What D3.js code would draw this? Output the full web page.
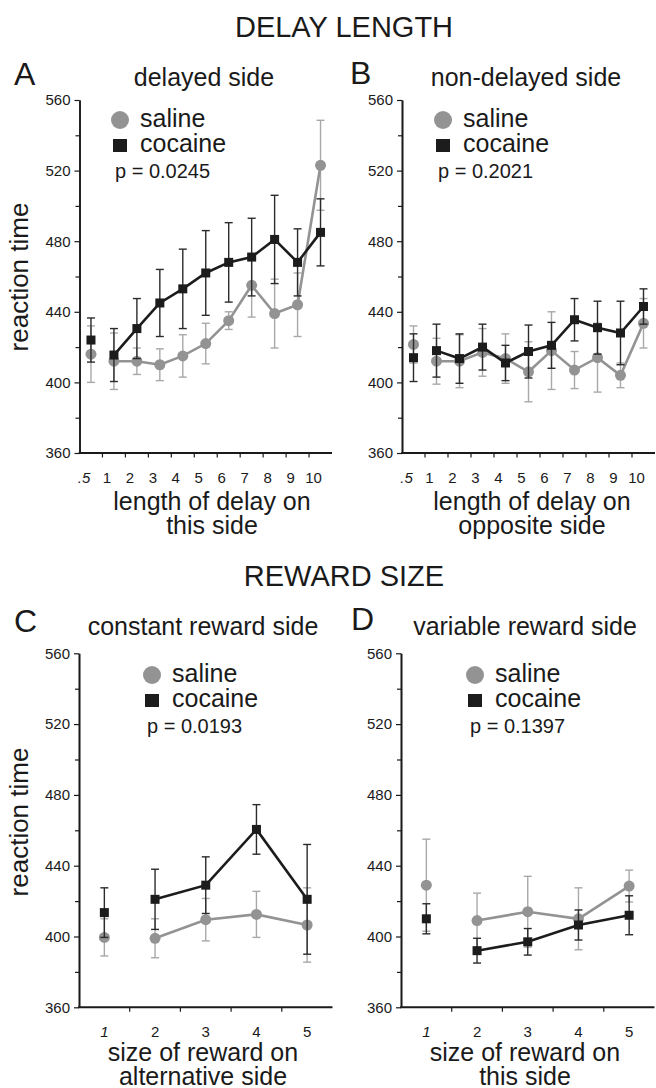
<!DOCTYPE html>
<meta charset="utf-8">
<style>
body { margin: 0; background: #fff; }
svg { display: block; }
text { font-family: "Liberation Sans", Arial, sans-serif; fill: #1a1a1a; }
</style>
<svg width="656" height="1088"></svg>
<script src="https://d3js.org/d3.v7.min.js"></script>
<script>

// categories / ticks
var delayCats = [".5", "1", "2", "3", "4", "5", "6", "7", "8", "9", "10"];
var rewardCats = ["1", "2", "3", "4", "5"];
var yMajor = [360, 400, 440, 480, 520, 560];
var yMinor = [380, 420, 460, 500, 540];

// A - delayed side
var aSaline      = [416, 412, 412, 410, 415, 422, 435, 455, 439, 444, 523];
var aSalineErr   = [16, 16, 7.5, 9, 12, 11.5, 5, 18, 19.5, 18, 25.5];
var aCocaine     = [424, 415.5, 430.5, 445, 453, 462, 468, 471, 481, 468, 485];
var aCocaineErr  = [12.5, 15, 17, 19, 22.5, 24, 22.5, 22, 25, 19, 19];

// B - non-delayed side
var bSaline      = [421.5, 412, 412, 417, 413.5, 406, 418, 407, 414, 404, 433.5];
var bSalineErr   = [10.5, 13, 15, 13.5, 14, 17, 22, 10.5, 19.5, 7, 14];
var bCocaine     = [414, 418, 413.5, 420, 411, 417.5, 421, 435.5, 431, 428, 443];
var bCocaineErr  = [13.5, 15, 14, 13, 10, 15, 13, 12, 15, 18, 10];

// C - constant reward side
var cSaline      = [399.5, 399, 409.5, 412.5, 406.5];
var cSalineErr   = [10.5, 11, 12, 13, 21];
var cCocaine     = [413.5, 421, 429, 460.5, 421];
var cCocaineErr  = [14, 17, 16, 14, 31];

// D - variable reward side
var dSaline      = [429, 409, 414, 410, 428.5];
var dSalineErr   = [26, 15.5, 20, 17.5, 9];
var dCocaine     = [410, 392, 397, 406.5, 412];
var dCocaineErr  = [8.5, 7, 7.5, 8.5, 11];

var pValues = ["p = 0.0245", "p = 0.2021", "p = 0.0193", "p = 0.1397"];

var saline_colour = "#939393";
var saline_err_colour = "#a8a8a8";
var cocaine_colour = "#1c1c1c";
var cocaine_err_colour = "#2b2b2b";

var svg = d3.select("svg");

function addText(x, y, txt, size, anchor) {
  return svg.append("text")
    .attr("x", x).attr("y", y)
    .attr("text-anchor", anchor || "start")
    .style("font-size", size + "px")
    .text(txt);
}

// section headings
addText(344, 37, "DELAY LENGTH", 29, "middle");
addText(344, 586, "REWARD SIZE", 29, "middle");

function drawSeries(g, x, y, cats, means, errs, colour, errColour, isSquare) {
  var bw = x.bandwidth();
  var pts = cats.map(function(c, i) { return {c: c, m: means[i], e: errs[i]}; });

  var eb = g.append("g").selectAll("g").data(pts).enter().append("g")
    .style("stroke", errColour).style("stroke-width", 1.4);
  eb.append("line")
    .attr("x1", function(d) { return x(d.c) + bw / 2; })
    .attr("x2", function(d) { return x(d.c) + bw / 2; })
    .attr("y1", function(d) { return y(d.m - d.e); })
    .attr("y2", function(d) { return y(d.m + d.e); });
  [-1, 1].forEach(function(s) {
    eb.append("line")
      .attr("x1", function(d) { return x(d.c) + bw / 2 - 4; })
      .attr("x2", function(d) { return x(d.c) + bw / 2 + 4; })
      .attr("y1", function(d) { return y(d.m + s * d.e); })
      .attr("y2", function(d) { return y(d.m + s * d.e); });
  });

  // first point stands alone, the rest are joined
  var line = d3.line()
    .x(function(d) { return x(d.c) + bw / 2; })
    .y(function(d) { return y(d.m); });
  g.append("path")
    .attr("d", line(pts.slice(1)))
    .style("fill", "none")
    .style("stroke", colour)
    .style("stroke-width", 2.6);

  if (isSquare) {
    g.append("g").selectAll("rect").data(pts).enter().append("rect")
      .attr("x", function(d) { return x(d.c) + bw / 2 - 4.5; })
      .attr("y", function(d) { return y(d.m) - 4.5; })
      .attr("width", 9).attr("height", 9)
      .style("fill", colour);
  } else {
    g.append("g").selectAll("circle").data(pts).enter().append("circle")
      .attr("cx", function(d) { return x(d.c) + bw / 2; })
      .attr("cy", function(d) { return y(d.m); })
      .attr("r", 5.5)
      .style("fill", colour);
  }
}

function drawPanel(p) {
  var x = d3.scaleBand().domain(p.cats).range([p.x0, p.x1]);
  var y = d3.scaleLinear().domain([360, 560]).range([p.y0, p.y1]);
  var g = svg.append("g");

  // y axis
  g.append("g")
    .attr("transform", "translate(" + p.x0 + ",0)")
    .call(d3.axisLeft(y).tickValues(yMinor).tickSize(4).tickSizeOuter(0).tickFormat(""));
  var ya = g.append("g")
    .attr("transform", "translate(" + p.x0 + ",0)")
    .call(d3.axisLeft(y).tickValues(yMajor).tickSize(5).tickSizeOuter(0).tickPadding(4).tickFormat(d3.format("d")));
  g.selectAll(".domain").style("stroke", "#1a1a1a").style("stroke-width", 1.6);
  g.selectAll(".tick line").style("stroke", "#1a1a1a").style("stroke-width", 1.2);
  ya.selectAll("text").style("font-size", "15px").style("font-family", "'Liberation Sans', Arial, sans-serif").attr("fill", "#1a1a1a");

  // x axis
  g.append("line")
    .attr("x1", p.x0 - 0.8).attr("x2", p.x1)
    .attr("y1", p.y0).attr("y2", p.y0)
    .style("stroke", "#1a1a1a").style("stroke-width", 2);
  g.append("g").selectAll("line").data(p.cats.slice(1)).enter().append("line")
    .attr("x1", function(d) { return x(d); })
    .attr("x2", function(d) { return x(d); })
    .attr("y1", p.y0).attr("y2", p.y0 + 4.5)
    .style("stroke", "#1a1a1a").style("stroke-width", 1.2);
  g.append("g").selectAll("text").data(p.cats).enter().append("text")
    .attr("x", function(d) { return x(d) + x.bandwidth() / 2 + p.labelDx; })
    .attr("y", p.y0 + 30)
    .attr("text-anchor", "middle")
    .style("font-size", "15px")
    .style("font-style", function(d, i) { return i == 0 ? "italic" : "normal"; })
    .text(function(d) { return d; });

  drawSeries(g, x, y, p.cats, p.sal, p.salErr, saline_colour, saline_err_colour, false);
  drawSeries(g, x, y, p.cats, p.coc, p.cocErr, cocaine_colour, cocaine_err_colour, true);

  // letter and title
  addText(p.letterX, p.letterY, p.letter, 32);
  addText(p.titleX, p.titleY, p.title, 25, "middle");

  // legend
  svg.append("circle").attr("cx", p.legX).attr("cy", p.legY).attr("r", 9).style("fill", saline_colour);
  addText(p.legX + 20, p.legY + 7, "saline", 25);
  svg.append("rect").attr("x", p.legX - 7).attr("y", p.legY + 19).attr("width", 14).attr("height", 13).style("fill", cocaine_colour);
  addText(p.legX + 20, p.legY + 32, "cocaine", 25);
  addText(p.legX - 5, p.legY + 58, p.pval, 20);

  // x title
  addText(p.xtX, p.xtY, p.xt1, 25, "middle");
  addText(p.xtX, p.xtY + 24, p.xt2, 25, "middle");

  // y title
  if (p.yTitle) {
    svg.append("text")
      .attr("transform", "translate(28," + p.yTitleY + ") rotate(-90)")
      .attr("text-anchor", "middle")
      .style("font-size", "26px")
      .text("reaction time");
  }
}

drawPanel({cats: delayCats, x0: 79.5, x1: 332, y0: 453, y1: 100, labelDx: -7,
  sal: aSaline, salErr: aSalineErr, coc: aCocaine, cocErr: aCocaineErr,
  letter: "A", letterX: 14, letterY: 85, title: "delayed side", titleX: 204, titleY: 86,
  legX: 120, legY: 120, pval: pValues[0],
  xt1: "length of delay on", xt2: "this side", xtX: 212, xtY: 510, yTitle: true, yTitleY: 277});

drawPanel({cats: delayCats, x0: 402, x1: 655, y0: 453, y1: 100, labelDx: -7,
  sal: bSaline, salErr: bSalineErr, coc: bCocaine, cocErr: bCocaineErr,
  letter: "B", letterX: 350, letterY: 84, title: "non-delayed side", titleX: 526, titleY: 86,
  legX: 443, legY: 120, pval: pValues[1],
  xt1: "length of delay on", xt2: "opposite side", xtX: 532, xtY: 510, yTitle: false});

drawPanel({cats: rewardCats, x0: 79, x1: 332.5, y0: 1007.3, y1: 653.3, labelDx: 0,
  sal: cSaline, salErr: cSalineErr, coc: cCocaine, cocErr: cCocaineErr,
  letter: "C", letterX: 14, letterY: 632, title: "constant reward side", titleX: 203, titleY: 635,
  legX: 152, legY: 675, pval: pValues[2],
  xt1: "size of reward on", xt2: "alternative side", xtX: 203, xtY: 1061, yTitle: true, yTitleY: 822});

drawPanel({cats: rewardCats, x0: 401, x1: 654.5, y0: 1007.3, y1: 653.3, labelDx: 0,
  sal: dSaline, salErr: dSalineErr, coc: dCocaine, cocErr: dCocaineErr,
  letter: "D", letterX: 351, letterY: 630, title: "variable reward side", titleX: 525, titleY: 635,
  legX: 475, legY: 675, pval: pValues[3],
  xt1: "size of reward on", xt2: "this side", xtX: 525, xtY: 1061, yTitle: false});

</script>
